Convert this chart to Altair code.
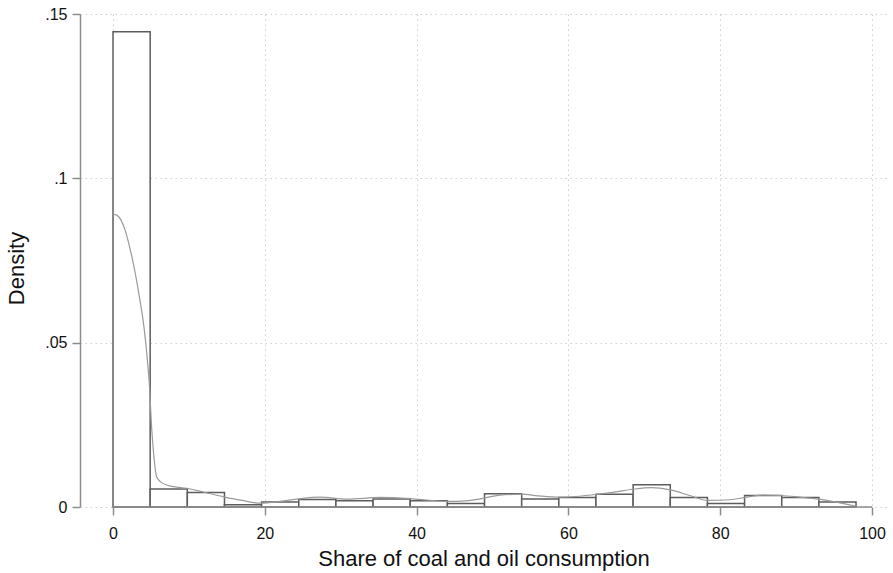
import altair as alt
import pandas as pd

# Histogram bins (share of coal and oil consumption, %)
bin_start = [0.0, 4.895, 9.79, 14.685, 19.58, 24.475, 29.37, 34.265, 39.16, 44.055,
             48.95, 53.845, 58.74, 63.635, 68.53, 73.425, 78.32, 83.215, 88.11, 93.005]
bin_end = [4.895, 9.79, 14.685, 19.58, 24.475, 29.37, 34.265, 39.16, 44.055, 48.95,
           53.845, 58.74, 63.635, 68.53, 73.425, 78.32, 83.215, 88.11, 93.005, 97.9]
density = [0.1446, 0.0055, 0.0044, 0.0007, 0.0015, 0.0023, 0.0019, 0.0024, 0.0019, 0.0011,
           0.0040, 0.0024, 0.0029, 0.0039, 0.0068, 0.0029, 0.0011, 0.0035, 0.0029, 0.0015]

# Kernel density estimate
kde_x = [0, 0.5, 1, 1.58, 2.2, 2.67, 3.1, 3.47, 4.13, 4.57, 4.8, 5.08, 5.4, 5.74, 6.2,
         7.06, 8, 9.7, 12, 14.6, 17, 19.4, 22, 24.5, 27.3, 30.8, 35.2, 39.5, 43.9, 46,
         48.4, 51, 53.8, 56, 58.8, 61, 63.6, 66, 68.5, 71, 73.4, 76, 78.3, 81.3, 83.5,
         85.6, 88, 90.5, 93, 95.5, 97.8]
kde_y = [0.0891, 0.0888, 0.0875, 0.0843, 0.079, 0.0741, 0.069, 0.064, 0.0538, 0.0437, 0.037,
         0.0244, 0.015, 0.0092, 0.0078, 0.0067, 0.0062, 0.0057, 0.0045, 0.0031, 0.002, 0.0012,
         0.0017, 0.0025, 0.003, 0.0024, 0.0029, 0.0025, 0.0017, 0.0018, 0.0025, 0.0036, 0.0039,
         0.0034, 0.003, 0.0032, 0.0038, 0.0045, 0.0054, 0.0059, 0.0052, 0.0035, 0.002, 0.0022,
         0.003, 0.0036, 0.0035, 0.003, 0.0024, 0.0014, 0.0003]

x_ticks = [0, 20, 40, 60, 80, 100]
y_ticks = [0, 0.05, 0.1, 0.15]

hist = pd.DataFrame({"start": bin_start, "end": bin_end, "density": density})
kde = pd.DataFrame({"x": kde_x, "y": kde_y})
axis_df = pd.DataFrame({"a": [x_ticks[0]], "b": [x_ticks[-1]], "y": [0]})

FONT = "Liberation Sans"
xscale = alt.Scale(domain=[-4.35, 101.98], nice=False, zero=False)
yscale = alt.Scale(domain=[0, 0.15], nice=False)

grid_kw = dict(grid=True, gridColor="#cfcfcf", gridDash=[1.5, 3.5], gridWidth=1)

bars = alt.Chart(hist).mark_rect(fill="white", stroke="#5c5c5c", strokeWidth=1.5).encode(
    x=alt.X("start:Q", scale=xscale,
            axis=alt.Axis(values=x_ticks, title="Share of coal and oil consumption",
                          domain=False, tickColor="#8c8c8c", tickSize=8, tickWidth=1.5,
                          labelFont=FONT, labelFontSize=16, labelColor="#111", labelPadding=10,
                          titleFont=FONT, titleFontSize=22, titleFontWeight="normal",
                          titleColor="#111", titleY=58, titleBaseline="alphabetic",
                          **grid_kw)),
    x2="end:Q",
    y=alt.Y("density:Q", scale=yscale,
            axis=alt.Axis(values=y_ticks, title="Density",
                          labelExpr="datum.value == 0 ? '0' : substring(toString(datum.value), 1)",
                          domainColor="#8c8c8c", domainWidth=1.5,
                          tickColor="#8c8c8c", tickSize=8, tickWidth=1.5,
                          labelFont=FONT, labelFontSize=16, labelColor="#111", labelPadding=5,
                          titleFont=FONT, titleFontSize=22, titleFontWeight="normal",
                          titleColor="#111", titleX=-64, titleY=254, titleAngle=270,
                          titleAlign="center", titleBaseline="middle",
                          **grid_kw)),
    y2=alt.datum(0),
)

line = alt.Chart(kde).mark_line(color="#9a9a9a", strokeWidth=1.2, interpolate="monotone").encode(
    x=alt.X("x:Q", scale=xscale),
    y=alt.Y("y:Q", scale=yscale),
)

xaxis_line = alt.Chart(axis_df).mark_rule(color="#8c8c8c", strokeWidth=1.5).encode(
    x=alt.X("a:Q", scale=xscale),
    x2="b:Q",
    y=alt.Y("y:Q", scale=yscale),
)

chart = alt.layer(bars, line, xaxis_line).properties(
    width=807, height=493,
    autosize=alt.AutoSizeParams(type="none"),
    padding={"left": 80, "top": 14, "right": 6, "bottom": 66},
    background="white",
).configure_view(stroke=None)

chart.save("out.html", embed_options={"renderer": "svg", "actions": False})
